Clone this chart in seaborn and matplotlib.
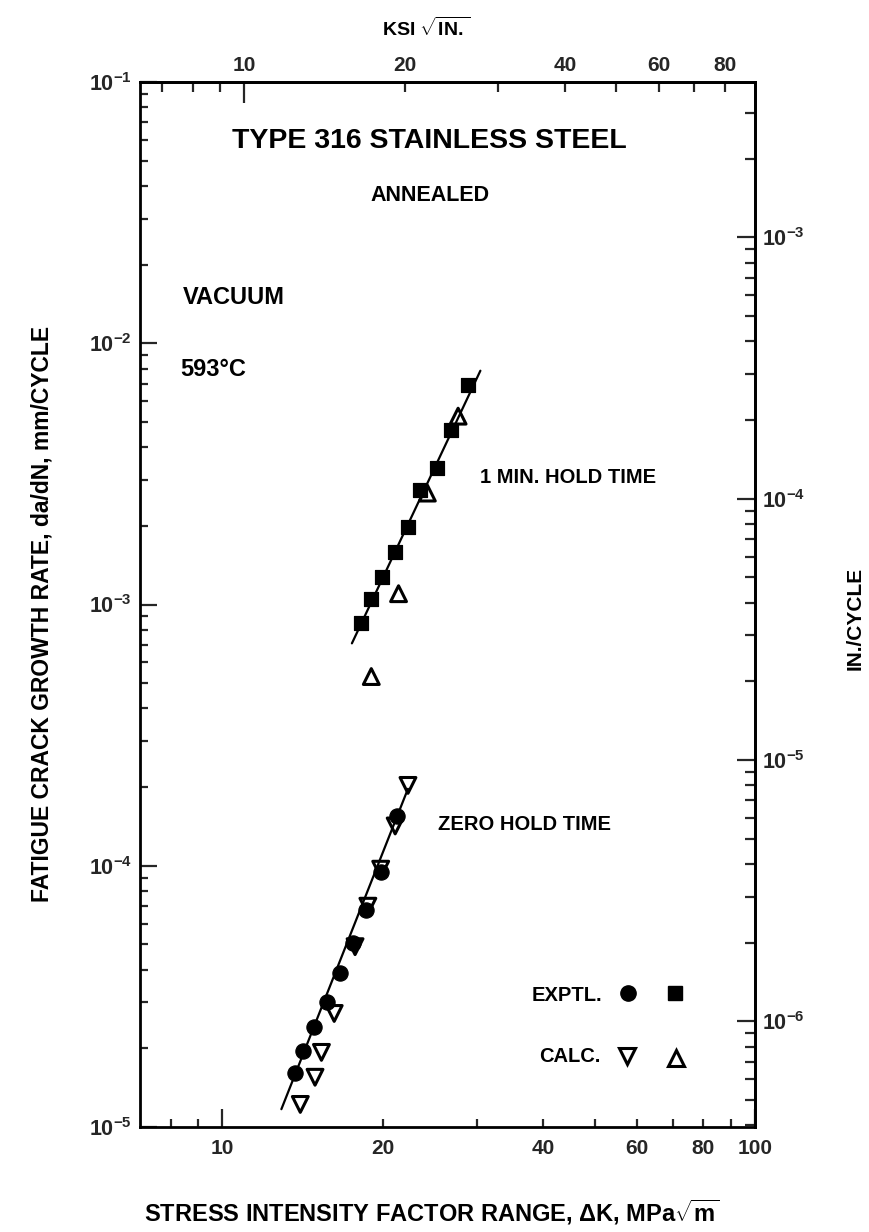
import matplotlib
matplotlib.use("Agg")
import matplotlib.pyplot as plt
import numpy as np
import seaborn as sns
from matplotlib.ticker import FixedLocator, FuncFormatter, LogLocator, NullFormatter

# ── Data ──────────────────────────────────────────────────────────────────────
# zero hold time
ZERO_EXP_DK = [21.25, 19.83, 18.62, 17.61, 16.6, 15.74, 14.88, 14.16, 13.68]
ZERO_EXP_DADN = [1.55e-4, 9.5e-5, 6.8e-5, 5.05e-5, 3.87e-5, 3.01e-5, 2.41e-5, 1.96e-5, 1.61e-5]
ZERO_CALC_DK = [22.3, 21.1, 19.82, 18.75, 17.74, 16.21, 15.34, 14.92, 14.0]
ZERO_CALC_DADN = [2.03e-4, 1.42e-4, 9.7e-5, 7.0e-5, 4.9e-5, 2.72e-5, 1.93e-5, 1.55e-5, 1.22e-5]
ZERO_FIT_DK = [12.9, 22.3]
ZERO_FIT_DADN = [1.17e-5, 1.97e-4]

# 1 min. hold time
HOLD_EXP_DK = [28.93, 26.9, 25.27, 23.54, 22.26, 21.05, 19.89, 19.02, 18.24]
HOLD_EXP_DADN = [6.93e-3, 4.67e-3, 3.33e-3, 2.75e-3, 1.98e-3, 1.59e-3, 1.27e-3, 1.05e-3, 8.5e-4]
HOLD_CALC_DK = [27.7, 24.25, 21.41, 19.03]
HOLD_CALC_DADN = [5.26e-3, 2.67e-3, 1.10e-3, 5.3e-4]
HOLD_FIT_DK = [17.5, 30.5]
HOLD_FIT_DADN = [7.1e-4, 7.85e-3]

MPA_PER_KSI = 1.0988
MM_PER_IN = 25.4

# ── Style ─────────────────────────────────────────────────────────────────────
sns.set_theme(style="ticks")
plt.rcParams.update({
    "font.family": ["Liberation Sans", "DejaVu Sans"],
    "font.weight": "bold",
    "mathtext.fontset": "custom",
    "mathtext.rm": "Liberation Sans:bold",
    "mathtext.it": "Liberation Sans:bold",
    "mathtext.bf": "Liberation Sans:bold",
    "axes.linewidth": 2.0,
    "axes.edgecolor": "black",
    "text.color": "black",
})

W, H = 870, 1232
fig = plt.figure(figsize=(W / 100, H / 100), dpi=100)
ax = fig.add_axes([140 / W, 1 - 1127 / H, 615 / W, 1045 / H])
ax.set_xscale("log")
ax.set_yscale("log")

# fit lines
sns.lineplot(x=ZERO_FIT_DK, y=ZERO_FIT_DADN, color="black", lw=1.6, ax=ax)
sns.lineplot(x=HOLD_FIT_DK, y=HOLD_FIT_DADN, color="black", lw=1.6, ax=ax)

# experimental (filled) points
sns.scatterplot(x=ZERO_EXP_DK, y=ZERO_EXP_DADN, marker="o", s=120, color="black",
                edgecolor="black", ax=ax, zorder=3)
sns.scatterplot(x=HOLD_EXP_DK, y=HOLD_EXP_DADN, marker="s", s=115, color="black",
                edgecolor="black", ax=ax, zorder=3)

# calculated (open) points
sns.scatterplot(x=ZERO_CALC_DK, y=ZERO_CALC_DADN, marker="v", s=130, color="black",
                edgecolor="black", linewidth=2.2, ax=ax, zorder=4)
ax.collections[-1].set_facecolor("none")
sns.scatterplot(x=HOLD_CALC_DK, y=HOLD_CALC_DADN, marker="^", s=130, color="black",
                edgecolor="black", linewidth=2.2, ax=ax, zorder=4)
ax.collections[-1].set_facecolor("none")

ax.set_xlim(7, 100)
ax.set_ylim(1e-5, 1e-1)

# ── Bottom axis (MPa sqrt m) ──────────────────────────────────────────────────
lab_fmt = FuncFormatter(lambda v, p: f"{v:g}" if round(v) in (20, 40, 60, 80) else "")
ax.xaxis.set_major_locator(FixedLocator([10, 100]))
ax.xaxis.set_major_formatter(FuncFormatter(lambda v, p: f"{v:g}"))
ax.xaxis.set_minor_locator(FixedLocator([8, 9, 20, 30, 40, 50, 60, 70, 80, 90]))
ax.xaxis.set_minor_formatter(lab_fmt)
ax.tick_params(axis="x", which="both", direction="in", labelsize=15, pad=9,
               top=False, width=1.6)
ax.tick_params(axis="x", which="major", length=13)
ax.tick_params(axis="x", which="minor", length=6)

# ── Left axis (mm/cycle) ──────────────────────────────────────────────────────
ax.set_yticks([1e-5, 1e-4, 1e-3, 1e-2, 1e-1],
              labels=[r"$10^{-5}$", r"$10^{-4}$", r"$10^{-3}$", r"$10^{-2}$", r"$10^{-1}$"])
ax.yaxis.set_minor_locator(LogLocator(base=10, subs=np.arange(2, 10)))
ax.yaxis.set_minor_formatter(NullFormatter())
ax.tick_params(axis="y", which="both", direction="in", labelsize=15.5, pad=6,
               right=False, width=1.6)
ax.tick_params(axis="y", which="major", length=12)
ax.tick_params(axis="y", which="minor", length=6)

# ── Top axis (ksi sqrt in) ────────────────────────────────────────────────────
top = ax.secondary_xaxis("top", functions=(lambda k: k / MPA_PER_KSI,
                                           lambda k: k * MPA_PER_KSI))
top.xaxis.set_major_locator(FixedLocator([10]))
top.xaxis.set_major_formatter(FuncFormatter(lambda v, p: f"{v:g}"))
top.xaxis.set_minor_locator(FixedLocator([7, 8, 9, 20, 30, 40, 50, 60, 70, 80]))
top.xaxis.set_minor_formatter(lab_fmt)
top.tick_params(which="both", direction="in", labelsize=15, pad=5, width=1.6)
top.tick_params(which="major", length=15)
top.tick_params(which="minor", length=7)
fig.text(426 / W, 1 - 28 / H, r"KSI $\sqrt{\mathrm{IN.}}$", ha="center", va="center",
         fontsize=14, fontweight="bold")

# ── Right axis (in/cycle) ─────────────────────────────────────────────────────
right = ax.secondary_yaxis("right", functions=(lambda y: y / MM_PER_IN,
                                               lambda y: y * MM_PER_IN))
right.set_yticks([1e-6, 1e-5, 1e-4, 1e-3],
                 labels=[r"$10^{-6}$", r"$10^{-5}$", r"$10^{-4}$", r"$10^{-3}$"])
right.yaxis.set_minor_locator(LogLocator(base=10, subs=np.arange(2, 10)))
right.yaxis.set_minor_formatter(NullFormatter())
right.tick_params(which="both", direction="in", labelsize=15.5, pad=5, width=1.6)
right.tick_params(which="major", length=13)
right.tick_params(which="minor", length=7)
fig.text(855 / W, 1 - 618 / H, "IN./CYCLE", rotation=90, ha="center", va="center",
         fontsize=15, fontweight="bold")

# ── Axis labels ───────────────────────────────────────────────────────────────
fig.text(432 / W, 1 - 1212 / H,
         r"STRESS INTENSITY FACTOR RANGE, ΔK, MPa$\sqrt{\mathrm{m}}$",
         ha="center", va="center", fontsize=17, fontweight="bold")
fig.text(42 / W, 1 - 614 / H, "FATIGUE CRACK GROWTH RATE, da/dN, mm/CYCLE",
         rotation=90, ha="center", va="center", fontsize=16.5, fontweight="bold")

# ── Annotations ───────────────────────────────────────────────────────────────
ax.text(0.47, 0.944, "TYPE 316 STAINLESS STEEL", transform=ax.transAxes,
        ha="center", va="center", fontsize=20.5, fontweight="bold")
ax.text(0.472, 0.891, "ANNEALED", transform=ax.transAxes,
        ha="center", va="center", fontsize=15.5, fontweight="bold")
ax.text(0.070, 0.794, "VACUUM", transform=ax.transAxes,
        ha="left", va="center", fontsize=17, fontweight="bold")
ax.text(0.065, 0.725, "593°C", transform=ax.transAxes,
        ha="left", va="center", fontsize=17, fontweight="bold")
ax.text(0.553, 0.622, "1 MIN. HOLD TIME", transform=ax.transAxes,
        ha="left", va="center", fontsize=14.5, fontweight="bold")
ax.text(0.485, 0.289, "ZERO HOLD TIME", transform=ax.transAxes,
        ha="left", va="center", fontsize=14.5, fontweight="bold")

# ── Key ───────────────────────────────────────────────────────────────────────
ax.text(0.751, 0.126, "EXPTL.", transform=ax.transAxes,
        ha="right", va="center", fontsize=14.5, fontweight="bold")
ax.text(0.748, 0.067, "CALC.", transform=ax.transAxes,
        ha="right", va="center", fontsize=14.5, fontweight="bold")
ax.plot([0.793], [0.128], transform=ax.transAxes, marker="o", ms=11, color="black",
        ls="none", clip_on=False)
ax.plot([0.870], [0.128], transform=ax.transAxes, marker="s", ms=10.5, color="black",
        ls="none", clip_on=False)
ax.plot([0.792], [0.068], transform=ax.transAxes, marker="v", ms=11.5, mfc="none",
        mec="black", mew=2.2, ls="none", clip_on=False)
ax.plot([0.871], [0.066], transform=ax.transAxes, marker="^", ms=11.5, mfc="none",
        mec="black", mew=2.2, ls="none", clip_on=False)

fig.savefig("out.png", dpi=100)
